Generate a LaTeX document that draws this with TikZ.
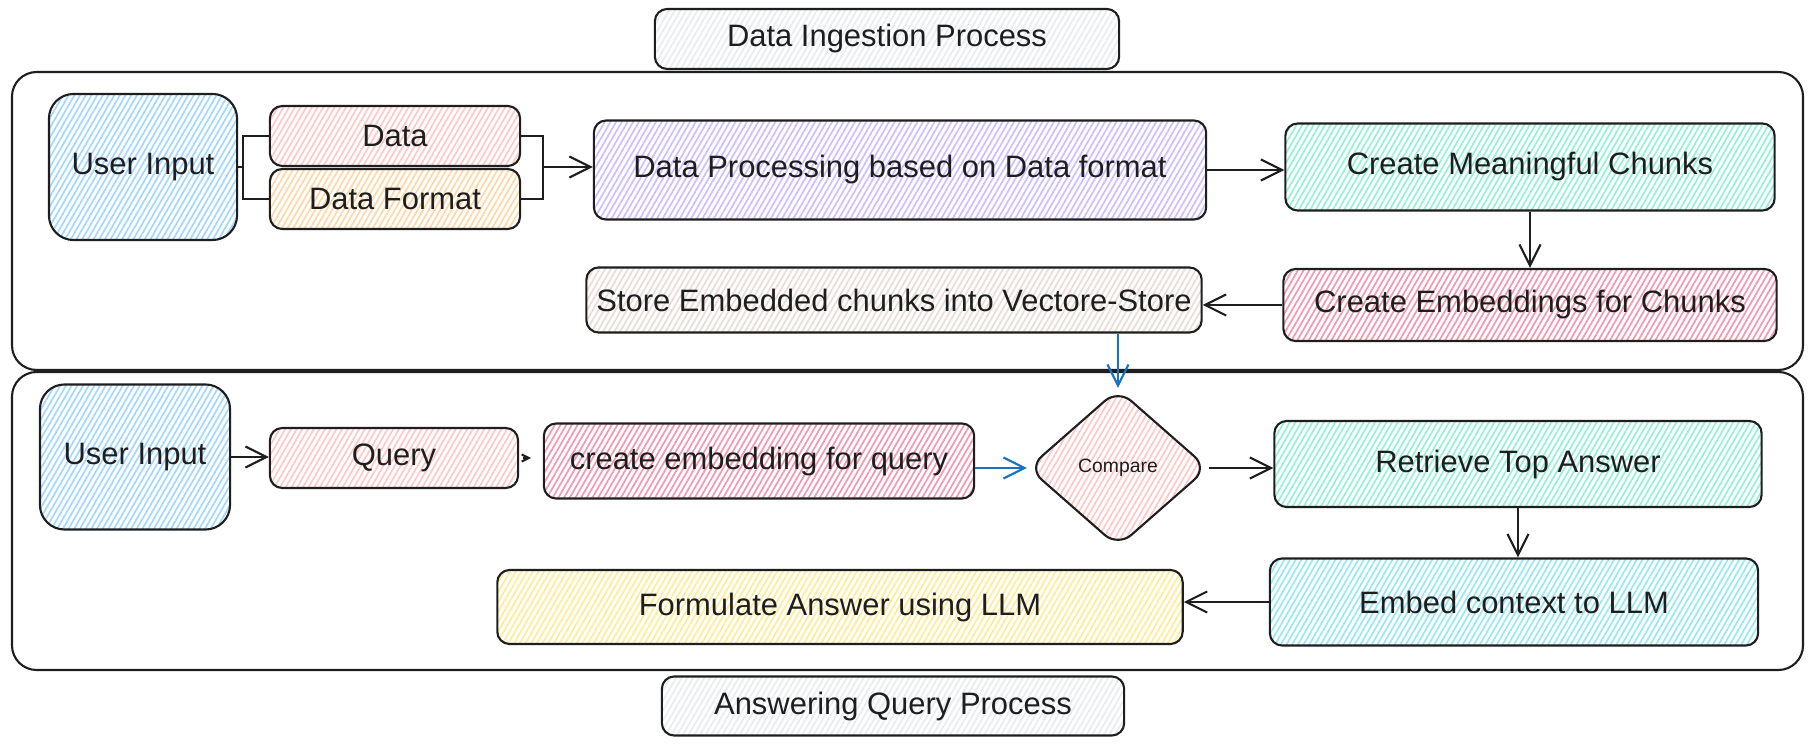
\documentclass[tikz,border=0pt]{standalone}
\usepackage{fontspec}
\setmainfont{Liberation Sans}
\usetikzlibrary{arrows.meta, shapes.geometric, patterns.meta}

\definecolor{ink}{HTML}{1E1E1E}
\definecolor{arrowblue}{HTML}{1971C2}
\definecolor{hblue}{HTML}{A5D8FF}
\definecolor{hpink}{HTML}{FFC9C9}
\definecolor{hrose}{HTML}{F29AB2}
\definecolor{horange}{HTML}{FFD8A8}
\definecolor{hviolet}{HTML}{D0BFFF}
\definecolor{hgreen}{HTML}{96F2D7}
\definecolor{hcyan}{HTML}{99E9F2}
\definecolor{hyellow}{HTML}{FFEC99}
\definecolor{hsand}{HTML}{EADDD7}
\definecolor{hgray}{HTML}{E9ECEF}

\tikzset{
  hatch/.style={pattern={Lines[angle=60,distance=1.4pt,line width=0.5pt]}, pattern color=#1},
  box/.style={draw=ink, line width=0.6pt, rounded corners=3.5pt, text=ink,
    font=\fontsize{8.8}{10.5}\selectfont, inner sep=2pt},
  bigbox/.style={box, rounded corners=7pt},
  frame/.style={draw=ink, line width=0.6pt, rounded corners=7pt},
  link/.style={draw=ink, line width=0.6pt, -{Straight Barb[length=6pt,width=6pt]}},
  bluelink/.style={link, draw=arrowblue},
  plain/.style={draw=ink, line width=0.6pt},
}

\begin{document}
\begin{tikzpicture}[x=0.01cm, y=-0.01cm]

% Canvas
\useasboundingbox (0,0) rectangle (1812,746);

% Frames
\draw[frame] (12,72) rectangle (1803,370);
\draw[frame] (12,372) rectangle (1803,670);

% Titles
\node[box, hatch=hgray, minimum width=4.64cm, minimum height=0.60cm] (ingest) at (887,39) {Data Ingestion Process};
\node[box, hatch=hgray, minimum width=4.62cm, minimum height=0.59cm] (answer) at (893,706) {Answering Query Process};

% Ingestion nodes
\node[bigbox, hatch=hblue, minimum width=1.88cm, minimum height=1.46cm] (input1) at (143,167) {User Input};
\node[box, hatch=hpink, minimum width=2.50cm, minimum height=0.60cm] (data) at (395,136) {Data};
\node[box, hatch=horange, minimum width=2.50cm, minimum height=0.60cm] (format) at (395,199) {Data Format};
\node[box, hatch=hviolet, minimum width=6.12cm, minimum height=0.99cm] (process) at (900,170) {Data Processing based on Data format};
\node[box, hatch=hgreen, minimum width=4.89cm, minimum height=0.87cm] (chunks) at (1530,167) {Create Meaningful Chunks};
\node[box, hatch=hrose, minimum width=4.93cm, minimum height=0.72cm] (embed) at (1530,305) {Create Embeddings for Chunks};
\node[box, hatch=hsand, minimum width=6.15cm, minimum height=0.65cm] (store) at (894,300) {Store Embedded chunks into Vectore-Store};

% Query nodes
\node[bigbox, hatch=hblue, minimum width=1.90cm, minimum height=1.45cm] (input2) at (135,457) {User Input};
\node[box, hatch=hpink, minimum width=2.48cm, minimum height=0.60cm] (query) at (394,458) {Query};
\node[box, hatch=hrose, minimum width=4.30cm, minimum height=0.75cm] (qembed) at (759,461) {create embedding for query};
\node[draw=ink, line width=0.6pt, diamond, rounded corners=5pt, hatch=hpink, text=ink,
  font=\fontsize{5.5}{6}\selectfont, inner sep=0pt, aspect=1.15,
  minimum width=1.80cm, minimum height=1.58cm] (compare) at (1118,468) {Compare};
\node[box, hatch=hgreen, minimum width=4.87cm, minimum height=0.86cm] (retrieve) at (1518,464) {Retrieve Top Answer};
\node[box, hatch=hcyan, minimum width=4.88cm, minimum height=0.87cm] (context) at (1514,602) {Embed context to LLM};
\node[box, hatch=hyellow, minimum width=6.85cm, minimum height=0.74cm] (llm) at (840,607) {Formulate Answer using LLM};

% Forks round Data / Data Format
\coordinate (forkL) at (243,167);
\coordinate (forkR) at (543,167);
\draw[plain] (input1.east) -- (forkL);
\draw[plain] (data.west) -| (forkL) |- (format.west);
\draw[plain] (data.east) -| (forkR) |- (format.east);

% Ingestion arrows
\draw[link] (forkR) -- (forkR -| process.west);
\draw[link] (process.east) -- (process.east -| chunks.west);
\draw[link] (chunks.south) -- (chunks.south |- embed.north);
\draw[link] (embed.west) -- (embed.west -| store.east);
\draw[bluelink] (compare.north |- store.south) -- (compare.north);

% Query arrows
\draw[link] (input2.east) -- (input2.east -| query.west);
\draw[plain, -{Straight Barb[length=2pt,width=2pt]}] (query.east) ++(4,0) -- ++(8,0);
\draw[bluelink] (qembed.east |- compare.west) -- (compare.west);
\draw[link] (compare.east) -- (compare.east -| retrieve.west);
\draw[link] (retrieve.south) -- (retrieve.south |- context.north);
\draw[link] (context.west) -- (context.west -| llm.east);

\end{tikzpicture}
\end{document}
